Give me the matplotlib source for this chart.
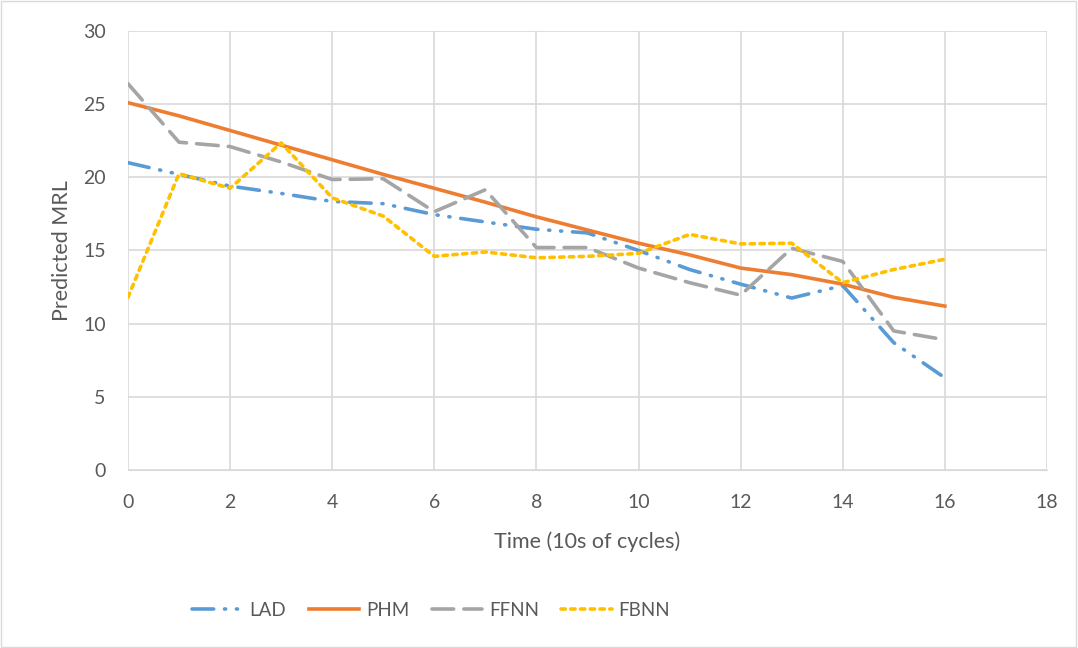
import matplotlib.pyplot as plt
from matplotlib.patches import Rectangle

time = list(range(17))
lad = [21.0, 20.2, 19.4, 18.9, 18.35, 18.2, 17.45, 16.95, 16.45, 16.2, 15.0, 13.7, 12.7, 11.75, 12.6, 8.7, 6.3]
phm = [25.1, 24.2, 23.2, 22.2, 21.2, 20.2, 19.25, 18.3, 17.3, 16.4, 15.5, 14.7, 13.8, 13.35, 12.7, 11.8, 11.2]
ffnn = [26.4, 22.4, 22.1, 21.05, 19.85, 19.9, 17.65, 19.15, 15.2, 15.2, 13.8, 12.8, 11.95, 15.15, 14.25, 9.5, 8.9]
fbnn = [11.8, 20.25, 19.25, 22.35, 18.6, 17.35, 14.6, 14.9, 14.5, 14.6, 14.8, 16.1, 15.45, 15.5, 12.8, 13.7, 14.4]

plt.rcParams['font.family'] = ['Lato', 'DejaVu Sans']

fig = plt.figure(figsize=(10.78, 6.48), dpi=100)
ax = fig.add_axes([0.1187, 0.2747, 0.8525, 0.6775])
fig.patches.append(Rectangle((0.0005, 0.001), 0.998, 0.997, transform=fig.transFigure,
                             fill=False, edgecolor='#D9D9D9', linewidth=1))

lw = 2.6
ax.plot(time, lad, color='#5B9BD5', lw=lw, dashes=(6, 3, 0.3, 3, 0.3, 3),
        dash_capstyle='round', label='LAD')
ax.plot(time, phm, color='#ED7D31', lw=lw, label='PHM')
ax.plot(time, ffnn, color='#A5A5A5', lw=lw, dashes=(6, 2.8), dash_capstyle='round', label='FFNN')
ax.plot(time, fbnn, color='#FFC000', lw=lw, dashes=(1.2, 1.5), dash_capstyle='round', label='FBNN')

ax.set_xlim(0, 18)
ax.set_ylim(0, 30)
ax.set_xticks(range(0, 19, 2))
ax.set_yticks(range(0, 31, 5))
ax.grid(True, color='#D9D9D9', lw=1.2)
ax.set_axisbelow(True)
for s in ax.spines.values():
    s.set_visible(False)
ax.spines['bottom'].set_visible(True)
ax.spines['bottom'].set_color('#D9D9D9')
ax.tick_params(length=0, labelsize=14, colors='#595959')
ax.tick_params(axis='x', pad=17)
ax.tick_params(axis='y', pad=16)

ax.set_xlabel('Time (10s of cycles)', fontsize=15.5, color='#595959', labelpad=15)
ax.set_ylabel('Predicted MRL', fontsize=15.5, color='#595959', labelpad=8)

leg = fig.legend(loc='center', bbox_to_anchor=(0.40, 0.058), ncol=4, frameon=False,
                 fontsize=13.5, handlelength=2.7, columnspacing=1.2, handletextpad=0.35)
for t in leg.get_texts():
    t.set_color('#595959')

fig.savefig('out.png', dpi=100)
